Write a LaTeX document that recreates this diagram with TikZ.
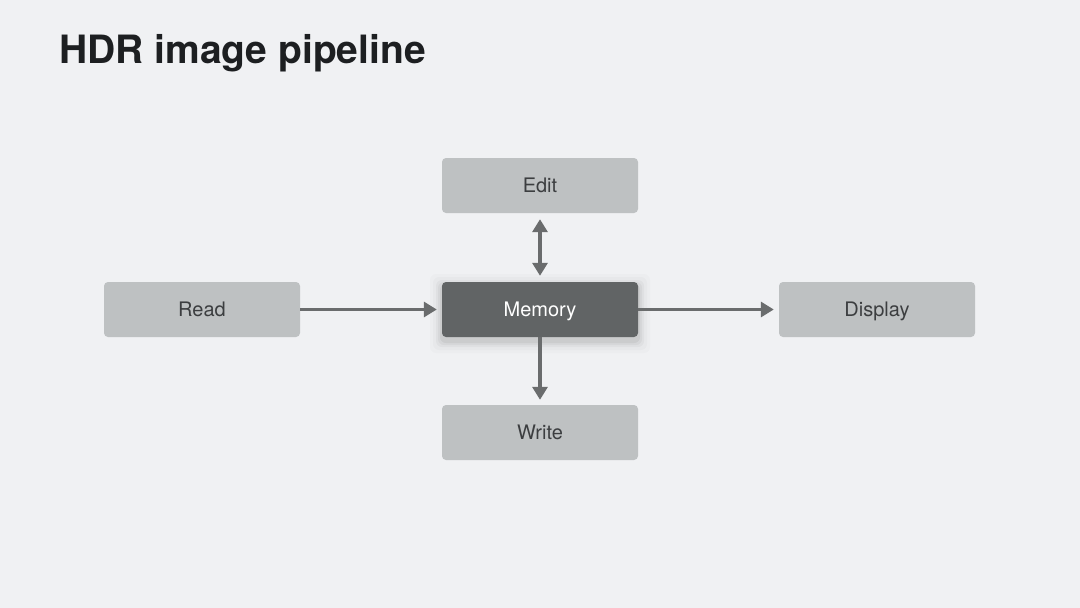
\documentclass[tikz,border=0pt]{standalone}
\usepackage{fontspec}
\setmainfont{TeX Gyre Heros}
\usetikzlibrary{arrows.meta}
\definecolor{bg}{HTML}{F0F1F3}
\definecolor{boxlight}{HTML}{BEC1C2}
\definecolor{boxdark}{HTML}{616465}
\definecolor{arrowc}{HTML}{6A6C6D}
\definecolor{txt}{HTML}{3C3E40}
\definecolor{titlec}{HTML}{1D1F21}
\tikzset{
  stage/.style={draw=none, fill=boxlight, rounded corners=4pt, minimum width=196pt, minimum height=55pt, inner sep=0pt, text height=14.4pt, text depth=0pt, text=txt, font=\fontsize{20}{23}\selectfont},
  memstage/.style={stage, fill=boxdark, text=white},
  flow/.style={draw=arrowc, line width=3.2pt, -{Triangle[length=13pt,width=15pt]}},
  biflow/.style={draw=arrowc, line width=3.2pt, {Triangle[length=13pt,width=15pt]}-{Triangle[length=13pt,width=15pt]}},
}
\begin{document}
\begin{tikzpicture}[x=1pt,y=-1pt]
\useasboundingbox[fill=bg] (0,0) rectangle (1080,608);
\node[anchor=base west, text=titlec, font=\fontsize{39}{44}\selectfont\bfseries, inner sep=0pt] (title) at (59,63) {HDR image pipeline};
% shadow for memory
\foreach \i/\o in {12/0.015,9/0.02,6/0.03,4/0.04,2/0.05}{
  \fill[black, opacity=\o, rounded corners=6pt] (442-\i,282-\i+4) rectangle (638+\i,337+\i+4);
}
\node[stage] (edit) at (540,185.5) {Edit};
\node[stage] (read) at (202,309.5) {Read};
\node[memstage] (mem) at (540,309.5) {Memory};
\node[stage] (disp) at (877,309.5) {Display};
\node[stage] (write) at (540,432.5) {Write};
\draw[flow] (read.east) -- ([xshift=-5pt]mem.west);
\draw[flow] (mem.east) -- ([xshift=-5pt]disp.west);
\draw[biflow] ([yshift=-6pt]edit.south) -- ([yshift=6pt]mem.north);
\draw[flow] (mem.south) -- ([yshift=5pt]write.north);
\end{tikzpicture}
\end{document}
